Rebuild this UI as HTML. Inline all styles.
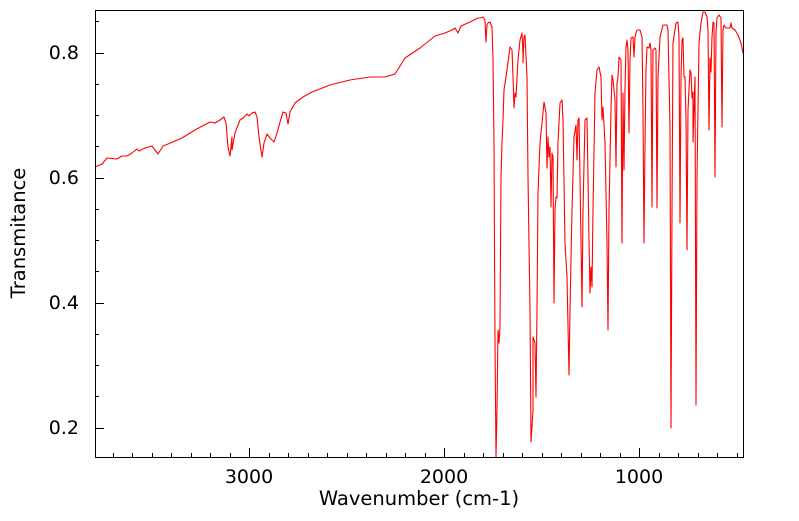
<!DOCTYPE html>
<html><head><meta charset="utf-8"><style>
html,body{margin:0;padding:0;background:#fff;}
svg text{font-family:"DejaVu Sans","Liberation Sans",sans-serif;fill:#000;}
</style></head><body>
<svg width="799" height="516" viewBox="0 0 799 516" xmlns="http://www.w3.org/2000/svg">
<rect width="799" height="516" fill="#fff"/>
<g id="ticks" stroke="#000" stroke-width="1"></g>
<polyline fill="none" stroke="#ff0000" stroke-width="1.1" stroke-linejoin="round" points="95,167 102,164 107,158 117,159 122,156 127,156 132,153 137,149 139,151 145,148 152,146 155,150 158,154 163,146 168,144 182,138 195,130 210,122 215,123 220,120 224,117 226,123 228,147 230,156 232,137 232,150 235,133 240,120 243,118 247,114 249,116 252,113 255,112 257,117 259,137 262,157 264,143 267,134 270,138 274,142 277,133 280,122 283,112 286,113 288,124 290,112 295,103 303,97 312,92 330,85 350,80 370,77 385,77 395,74 400,66 405,58 420,48 435,36 445,33 452,30 455,28 458,33 461,26 470,22 478,18 480,18 483,17 485,20 486,42 487,25 488,23 490,22 492,27 493,60 494,143 495,343 496,457 497,410 498,330 499,343 500,327 501,177 502,143 503,120 504,90 507,70 510,47 512,50 513,77 514,108 515,93 516,97 518,60 520,40 522,33 523,53 523,63 524,37 525,35 527,77 528,177 530,310 531,442 533,410 533,337 535,343 536,397 537,310 538,193 540,143 543,113 544,102 546,113 547,168 548,137 549,157 550,147 551,207 552,153 553,157 554,303 555,210 556,197 557,198 558,143 560,103 562,100 563,120 565,243 567,277 569,375 570,310 572,210 574,137 576,125 577,160 578,120 579,118 580,177 582,307 583,210 585,120 587,118 588,177 589,240 590,293 591,267 592,287 593,210 595,93 597,70 599,67 601,77 602,120 603,107 605,143 607,243 608,330 609,210 611,110 612,75 613,80 615,100 616,167 617,83 618,77 619,57 621,60 622,243 623,93 624,170 625,90 626,47 627,40 628,50 629,133 630,60 631,38 633,37 634,57 635,37 637,30 640,30 642,37 643,110 644,243 645,143 646,70 647,47 649,48 650,43 651,50 652,207 653,50 655,48 656,50 657,208 658,77 660,37 663,25 667,25 668,30 670,127 671,428 672,210 673,43 676,23 678,22 679,37 680,223 681,77 682,40 683,38 684,77 685,77 686,120 687,250 688,110 690,70 691,73 692,98 693,92 693,142 695,77 696,405 697,177 699,43 701,23 703,12 705,12 707,17 708,30 709,130 710,58 711,72 712,37 713,22 714,23 715,177 716,33 717,18 719,15 721,18 722,127 723,30 724,25 726,28 730,28 731,23 732,28 735,30 738,35 741,43 743,53"/>
<rect x="95.5" y="10.5" width="648" height="447" fill="none" stroke="#000" stroke-width="1"/>
<text x="79" y="59" font-size="19" text-anchor="end">0.8</text>
<text x="79" y="184" font-size="19" text-anchor="end">0.6</text>
<text x="79" y="309" font-size="19" text-anchor="end">0.4</text>
<text x="79" y="434" font-size="19" text-anchor="end">0.2</text>
<text x="249" y="483" font-size="19" text-anchor="middle">3000</text>
<text x="444" y="483" font-size="19" text-anchor="middle">2000</text>
<text x="639" y="483" font-size="19" text-anchor="middle">1000</text>
<text x="419" y="505" font-size="19.5" text-anchor="middle">Wavenumber (cm-1)</text>
<text transform="translate(25,233) rotate(-90)" font-size="19.5" text-anchor="middle">Transmitance</text>
</svg>
<script>
var g=document.getElementById('ticks'),s='';
for(var w=3700;w>=500;w-=100){var x=249+(3000-w)*0.195;var L=(w%1000==0)?9:4;x=Math.round(x)+0.5;s+='<line x1="'+x+'" y1="457" x2="'+x+'" y2="'+(457-L)+'"/>';}
for(var i=0;i<=13;i++){var t=0.2+i*0.05;var y=427.7-(t-0.2)*625;if(y<12||y>456)continue;var L=(Math.abs((t*10)%2)<0.01||Math.abs((t*10)%2-2)<0.01)?9:4;y=Math.round(y)+0.5;s+='<line x1="95" y1="'+y+'" x2="'+(95+L)+'" y2="'+y+'"/>';}
g.innerHTML=s;
</script>
</body></html>
